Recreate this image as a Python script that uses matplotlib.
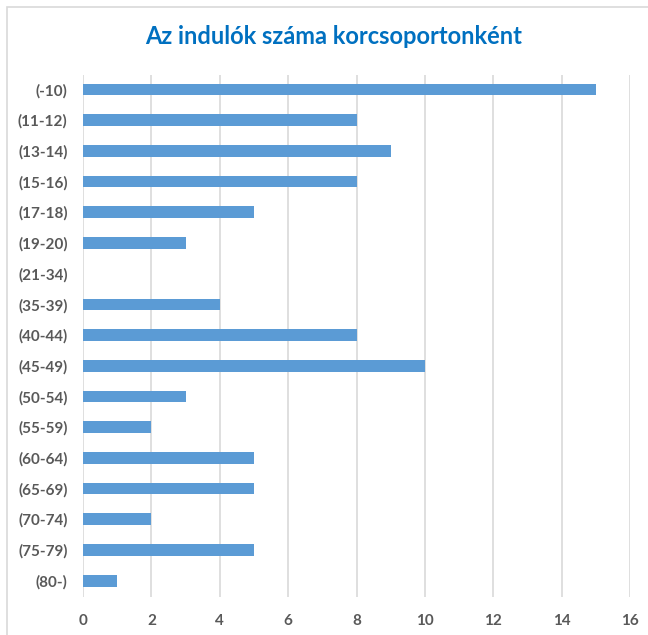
import matplotlib
matplotlib.use("Agg")
import matplotlib.pyplot as plt
from matplotlib.patches import Rectangle

categories = ["(-10)", "(11-12)", "(13-14)", "(15-16)", "(17-18)", "(19-20)", "(21-34)",
              "(35-39)", "(40-44)", "(45-49)", "(50-54)", "(55-59)", "(60-64)", "(65-69)",
              "(70-74)", "(75-79)", "(80-)"]
values = [15, 8, 9, 8, 5, 3, 0, 4, 8, 10, 3, 2, 5, 5, 2, 5, 1]
xticks = [0, 2, 4, 6, 8, 10, 12, 14, 16]
title = "Az indulók száma korcsoportonként"

plt.rcParams['font.family'] = ['Lato', 'DejaVu Sans']

W, H = 648, 635
fig = plt.figure(figsize=(W / 100, H / 100), dpi=100)
fig.patch.set_facecolor("white")

# outer border
fig.add_artist(Rectangle((7 / W, -0.05), 1.1, 1 - 7 / H + 0.05, transform=fig.transFigure,
                         fill=False, edgecolor="#D9D9D9", linewidth=1.2))

ax = fig.add_axes([83 / W, 1 - 597 / H, (630 - 83) / W, (597 - 75) / H])
y = list(range(len(categories)))
ax.barh(y, values, height=0.38, color="#5B9BD5", zorder=3)
ax.set_ylim(len(categories) - 0.47, -0.47)
ax.set_xlim(0, 16)
ax.set_xticks(xticks)
ax.set_yticks(y)
ax.set_yticklabels(categories)
for s in ax.spines.values():
    s.set_visible(False)
ax.grid(axis="x", color="#D9D9D9", linewidth=1.2, zorder=0)
ax.tick_params(axis="both", length=0, labelcolor="#595959", labelsize=11)
ax.tick_params(axis="y", pad=11)
ax.tick_params(axis="x", pad=12)
for lab in ax.get_xticklabels() + ax.get_yticklabels():
    lab.set_fontweight("bold")

fig.text(334 / W, 1 - 37 / H, title, ha="center", va="center", color="#0070C0",
         fontsize=17, fontweight="bold")

fig.savefig("out.png", dpi=100)
